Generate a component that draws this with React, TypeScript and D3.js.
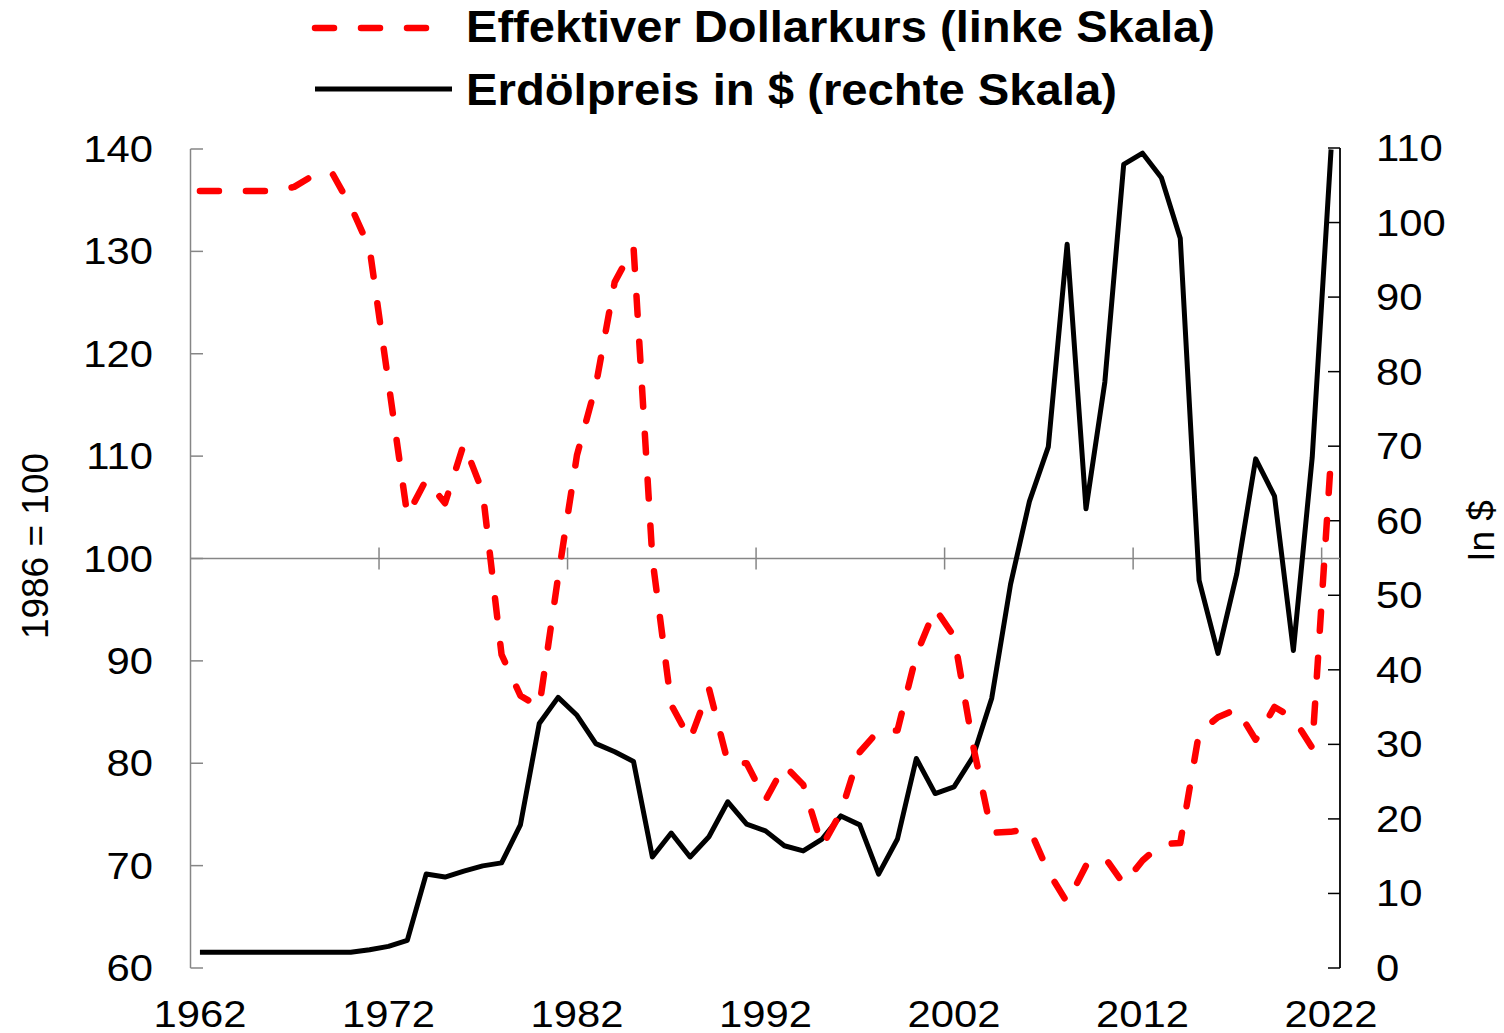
import React, { useEffect } from 'react';
import * as d3 from 'd3';

// Jahre 1962..2022
const years = d3.range(1962, 2023);

// Effektiver Dollarkurs, 1986 = 100 (linke Skala)
const dollarIndex = [
  135.9, 135.9, 135.9, 135.9, 135.9, 136.3, 137.4, 137.7, 134.4, 130.3,
  117.2, 104.2, 107.7, 105.4, 111.2, 106.5, 90.6, 86.6, 85.5, 98.2,
  110.1, 116.9, 127.0, 130.4, 100.0, 85.7, 82.3, 87.3, 80.1, 80.0,
  76.4, 79.8, 77.9, 71.9, 75.2, 81.1, 83.2, 83.2, 90.6, 95.1,
  92.4, 81.8, 73.2, 73.3, 73.6, 69.4, 66.4, 70.0, 70.8, 68.2,
  70.5, 72.1, 72.2, 83.0, 84.5, 85.3, 82.3, 85.5, 84.4, 81.5,
  110.0,
];

// Erdölpreis in $ (rechte Skala)
const oilPrice = [
  2.1, 2.1, 2.1, 2.1, 2.1, 2.1, 2.1, 2.1, 2.1, 2.45,
  2.9, 3.7, 12.6, 12.2, 13.0, 13.7, 14.1, 19.2, 32.8, 36.3,
  33.9, 30.1, 29.0, 27.7, 14.9, 18.1, 14.9, 17.6, 22.3, 19.3,
  18.4, 16.4, 15.7, 17.3, 20.4, 19.2, 12.6, 17.3, 28.1, 23.4,
  24.3, 28.3, 36.2, 51.5, 62.6, 69.9, 97.1, 61.6, 78.6, 107.8,
  109.3, 106.0, 97.9, 52.0, 42.2, 52.9, 68.3, 63.3, 42.6, 68.5,
  109.8,
];

const leftTicks = [60, 70, 80, 90, 100, 110, 120, 130, 140];
const rightTicks = [0, 10, 20, 30, 40, 50, 60, 70, 80, 90, 100, 110];
const yearLabels = [1962, 1972, 1982, 1992, 2002, 2012, 2022];
const yearTicks = [1972, 1982, 1992, 2002, 2012, 2022];

const legendLabels = ['Effektiver Dollarkurs (linke Skala)', 'Erdölpreis in $ (rechte Skala)'];
const leftTitle = '1986 = 100';
const rightTitle = 'In $';

const W = 1504;
const H = 1033;
const FONT = '"Liberation Sans", Arial, Helvetica, sans-serif';
const GRAY = '#868686';

export default function App() {
  useEffect(() => {
    document.body.style.margin = '0';
  }, []);

  const x = d3.scaleBand<number>().domain(years).range([190.5, 1340.5]).paddingInner(0).paddingOuter(0);
  const cx = (yr: number) => (x(yr) as number) + x.bandwidth() / 2;
  const yL = d3.scaleLinear().domain([60, 140]).range([968, 149]);
  const yR = d3.scaleLinear().domain([0, 110]).range([968, 148]);

  const redLine = d3.line<number>().x((_, i) => cx(years[i])).y((d) => yL(d))(dollarIndex) || '';
  const blackLine = d3.line<number>().x((_, i) => cx(years[i])).y((d) => yR(d))(oilPrice) || '';

  const axisY = yL(100);
  const sx = 1.13;

  return (
    <svg width={W} height={H} style={{ position: 'absolute', left: 0, top: 0, background: '#fff' }} fontFamily={FONT}>
      {/* legend */}
      <line x1={315} x2={432} y1={28} y2={28} stroke="#ff0000" strokeWidth={6.5} strokeDasharray="19 27" strokeLinecap="round" />
      <line x1={315} x2={452} y1={89} y2={89} stroke="#000" strokeWidth={5} />
      <text x={466} y={42} fontSize={45} fontWeight="bold" textLength={749} lengthAdjust="spacingAndGlyphs">{legendLabels[0]}</text>
      <text x={466} y={105} fontSize={45} fontWeight="bold" textLength={651} lengthAdjust="spacingAndGlyphs">{legendLabels[1]}</text>

      {/* left axis */}
      <line x1={190.5} x2={190.5} y1={yL(140)} y2={yL(60)} stroke={GRAY} strokeWidth={1.5} />
      {leftTicks.map((t) => (
        <g key={'l' + t}>
          <line x1={190.5} x2={203} y1={yL(t)} y2={yL(t)} stroke={GRAY} strokeWidth={1.5} />
          <text transform={`translate(153,${yL(t) + 13}) scale(${sx},1)`} textAnchor="end" fontSize={37}>{t}</text>
        </g>
      ))}
      <text transform={`translate(48,546) rotate(-90)`} textAnchor="middle" fontSize={37}>{leftTitle}</text>

      {/* right axis */}
      <line x1={1340} x2={1340} y1={yR(110)} y2={yR(0)} stroke="#000" strokeWidth={1.8} />
      {rightTicks.map((t) => (
        <g key={'r' + t}>
          <line x1={1328} x2={1340} y1={yR(t)} y2={yR(t)} stroke="#000" strokeWidth={1.5} />
          <text transform={`translate(1376,${yR(t) + 13}) scale(${sx},1)`} textAnchor="start" fontSize={37}>{t}</text>
        </g>
      ))}
      <text transform={`translate(1494,531) rotate(-90)`} textAnchor="middle" fontSize={37}>{rightTitle}</text>

      {/* category axis crossing at 100 */}
      <line x1={190.5} x2={1340} y1={axisY} y2={axisY} stroke={GRAY} strokeWidth={1.5} />
      {yearTicks.map((yr) => (
        <line key={'t' + yr} x1={x(yr) as number} x2={x(yr) as number} y1={axisY - 11} y2={axisY + 11} stroke={GRAY} strokeWidth={1.5} />
      ))}
      {yearLabels.map((yr) => (
        <text key={'y' + yr} transform={`translate(${cx(yr)},1027) scale(${sx},1)`} textAnchor="middle" fontSize={37}>{yr}</text>
      ))}

      {/* series */}
      <path d={blackLine} fill="none" stroke="#000" strokeWidth={5} strokeLinejoin="round" />
      <path d={redLine} fill="none" stroke="#ff0000" strokeWidth={6.5} strokeDasharray="19 27" strokeLinecap="round" strokeLinejoin="round" />
    </svg>
  );
}
